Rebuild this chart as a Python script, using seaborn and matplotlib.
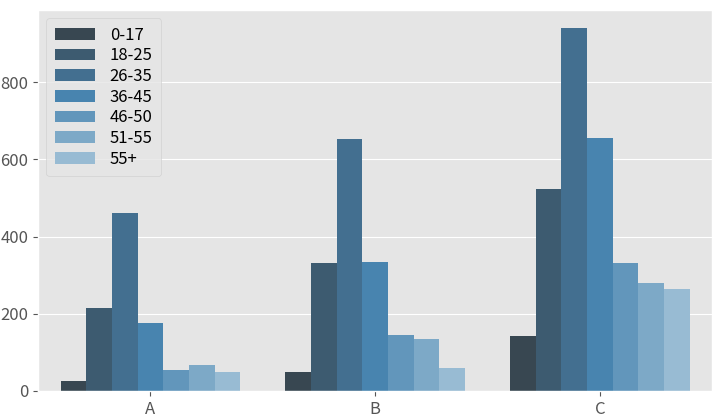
import numpy as np
import pandas as pd
import seaborn as sns
import matplotlib.pyplot as plt

plt.style.use("ggplot")
plt.rcParams['font.family'] = ['Noto Sans CJK SC', 'DejaVu Sans']

groups = ["A", "B", "C"]
ages = ["0-17", "18-25", "26-35", "36-45", "46-50", "51-55", "55+"]
vals_a = [26, 215, 461, 176, 54, 67, 49]
vals_b = [49, 331, 653, 334, 145, 135, 60]
vals_c = [142, 523, 940, 655, 331, 280, 264]

rows = []
for g, vals in zip(groups, [vals_a, vals_b, vals_c]):
    for a, v in zip(ages, vals):
        rows.append((g, a, v))
df = pd.DataFrame(rows, columns=["group", "age", "count"])

pal = sns.color_palette("Blues_d", len(ages))[::-1]

fig, ax = plt.subplots(figsize=(7.18, 4.19), dpi=100)
sns.barplot(data=df, x="group", y="count", hue="age", hue_order=ages,
            palette=pal, saturation=0.75, ax=ax)
ax.set_xlabel("")
ax.set_ylabel("")
ax.tick_params(labelsize=12)
ax.legend(loc="upper left", fontsize=12, handlelength=2.4, labelspacing=0.22,
          handletextpad=0.9, borderpad=0.5)
plt.subplots_adjust(left=0.053, right=0.992, bottom=0.067, top=0.976)
plt.savefig("out.png")
